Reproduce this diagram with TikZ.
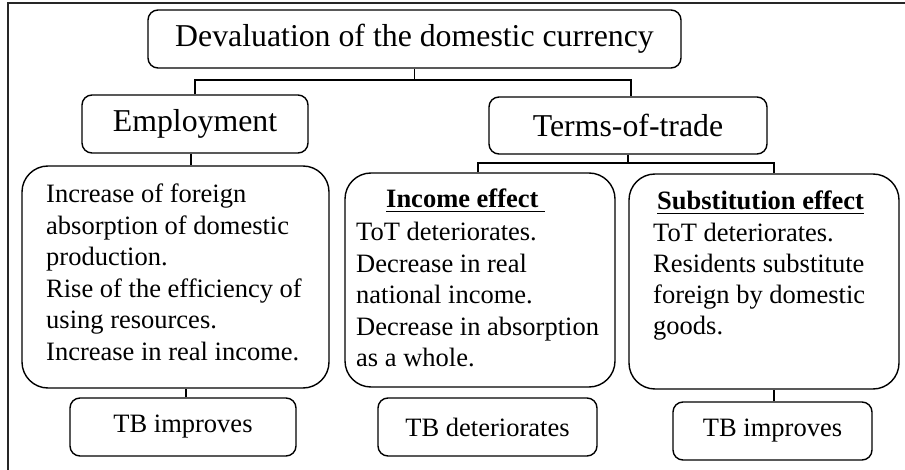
\documentclass[tikz,border=0pt]{standalone}
\usepackage{fontspec}
\setmainfont{Liberation Serif}
\newcommand\fbig{\fontsize{31.8}{36}\selectfont}
\newcommand\fsm{\fontsize{26.5}{31.5}\selectfont}
\newcommand\myul[1]{\setbox0\hbox{#1}\rlap{\rule[-4.5pt]{\wd0}{1.8pt}}\box0}
\begin{document}
\begin{tikzpicture}[x=1pt,y=-1pt,
  box/.style={draw, line width=1.4pt, rounded corners=10pt, inner sep=0pt},
  bigbox/.style={draw, line width=1.4pt, rounded corners=26pt, inner sep=0pt},
  conn/.style={line width=1.2pt},
  txt/.style={inner sep=0pt, anchor=base west}]
\useasboundingbox (0,0) rectangle (905,470);
% frame (right and bottom sides fall outside the picture)
\draw[line width=1.5pt, black!85] (8,470) -- (8,3) -- (905,3);

\node[box, minimum width=533pt, minimum height=58pt, font=\fbig] (top) at (414.5,39) {Devaluation of the domestic currency};
\node[box, minimum width=226pt, minimum height=58pt, font=\fbig] (emp) at (195,124) {Employment};
\node[box, minimum width=278pt, minimum height=57pt, font=\fbig] (tot) at (628,125.5) {Terms-of-trade};

\node[bigbox, minimum width=307pt, minimum height=222pt] (b1) at (175.5,277) {};
\node[bigbox, minimum width=270pt, minimum height=214pt] (b2) at (480,280) {};
\node[bigbox, minimum width=270pt, minimum height=215pt] (b3) at (764,281.5) {};

\node[box, minimum width=226pt, minimum height=58pt, font=\fsm] (tb1) at (183,427) {TB improves};
\node[box, minimum width=219pt, minimum height=58pt, font=\fsm] (tb2) at (487.5,427) {TB deteriorates};
\node[box, minimum width=199pt, minimum height=58pt, font=\fsm] (tb3) at (772.5,431) {TB improves};

\node[txt] (t1) at (46,203) {\parbox[t]{280pt}{\fsm\raggedright Increase of foreign\\absorption of domestic\\production.\\Rise of the efficiency of\\using resources.\\Increase in real income.}};
\node[txt] (h2) at (386,208) {\fsm\myul{\textbf{Income effect}\ }};
\node[txt] (t2) at (356,241) {\parbox[t]{255pt}{\fsm\raggedright ToT deteriorates.\\Decrease in real\\national income.\\Decrease in absorption\\as a whole.}};
\node[txt] (h3) at (657,210) {\fsm\myul{\textbf{Substitution effect}}};
\node[txt] (t3) at (653,242) {\parbox[t]{240pt}{\fontsize{26.5}{31}\selectfont\raggedright ToT deteriorates.\\Residents substitute\\foreign by domestic\\goods.}};

\coordinate (bus1) at (0,80);
\coordinate (bus2) at (0,163);
\draw[conn] (top.south) -- (top.south |- bus1);
\draw[conn] (emp.north) |- ([xshift=3pt]tot.north |- bus1) -- ([xshift=3pt]tot.north);
\draw[conn] ([xshift=-4pt]emp.south) -- ([xshift=-4pt]emp.south |- b1.north);
\draw[conn] ([xshift=3pt]tb1.north) -- ([xshift=3pt]tb1.north |- b1.south);
\draw[conn] (tot.south) -- (tot.south |- bus2);
\draw[conn] ([xshift=-2pt]b2.north) |- ([xshift=10pt]b3.north |- bus2) -- ([xshift=10pt]b3.north);
\draw[conn] ([xshift=1.5pt]tb3.north) -- ([xshift=1.5pt]tb3.north |- b3.south);
\end{tikzpicture}
\end{document}
